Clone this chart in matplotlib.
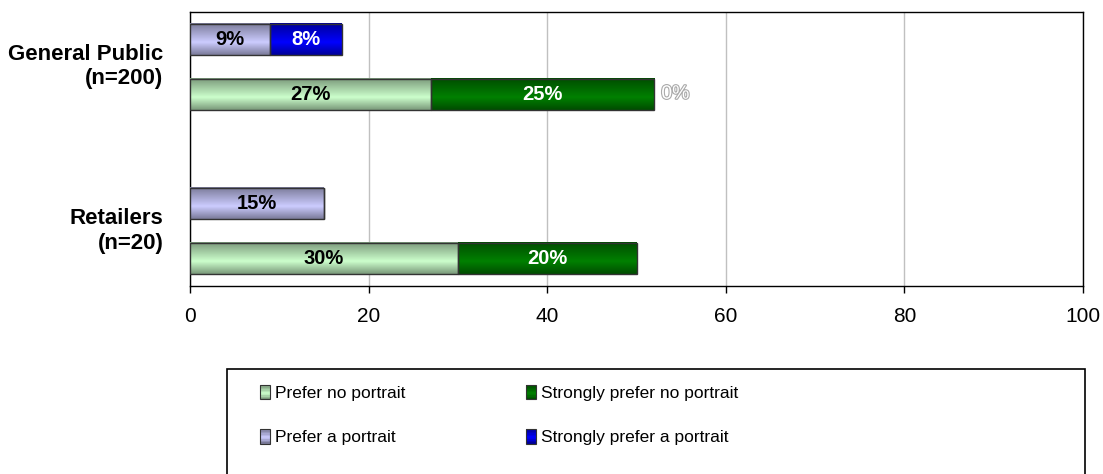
import numpy as np
import matplotlib
matplotlib.use("Agg")
import matplotlib.pyplot as plt
from matplotlib.patches import Rectangle
from matplotlib.legend_handler import HandlerBase
import matplotlib.colors as mcolors
import matplotlib.patheffects as pe

plt.rcParams['font.family'] = ['Liberation Sans', 'DejaVu Sans']

# ---------------- data ----------------
groups = ["General Public\n(n=200)", "Retailers\n(n=20)"]
prefer_no = [27, 30]
strongly_no = [25, 20]
prefer_yes = [9, 15]
strongly_yes = [8, 0]
extra_no_row_label = ["0%", ""]   # outlined label shown after the "no portrait" bar

series_names = ["Prefer no portrait", "Strongly prefer no portrait",
                "Prefer a portrait", "Strongly prefer a portrait"]
series_colors = ["#ccffcc", "#008000", "#ccccff", "#0000ff"]
label_colors = ["black", "white", "black", "white"]
xticks = [0, 20, 40, 60, 80, 100]

# ---------------- helpers ----------------
def profile(n=64):
    t = np.linspace(0, 1, n)
    d = np.where(t < 0.6, (0.6 - t) / 0.6, (t - 0.6) / 0.4)
    return 1 - 0.4 * d

def grad_img(color, n=64):
    rgb = np.array(mcolors.to_rgb(color))
    f = profile(n)[:, None]
    return (f * rgb)[:, None, :]

class HandlerGradient(HandlerBase):
    def create_artists(self, legend, orig_handle, xdescent, ydescent,
                       width, height, fontsize, trans):
        color = orig_handle.get_facecolor()
        n = 10
        f = profile(n)
        arts = []
        for i in range(n):
            c = np.clip(np.array(color[:3]) * f[i], 0, 1)
            r = Rectangle((-xdescent, -ydescent + height * (1 - (i + 1) / n)),
                          width, height / n, facecolor=c, edgecolor='none',
                          transform=trans)
            arts.append(r)
        edge = Rectangle((-xdescent, -ydescent), width, height,
                         facecolor='none', edgecolor='#333333', lw=0.8,
                         transform=trans)
        arts.append(edge)
        return arts

# ---------------- figure ----------------
fig = plt.figure(figsize=(11.03, 4.74), dpi=100)
ax = fig.add_axes([190 / 1103, 1 - 286 / 474, 893 / 1103, 274 / 474])

base = np.array([3.0, 0.0])
no_pos = base
yes_pos = base + 1
h = 0.57

rows = [
    (no_pos, prefer_no, np.zeros(2)),
    (no_pos, strongly_no, np.array(prefer_no, float)),
    (yes_pos, prefer_yes, np.zeros(2)),
    (yes_pos, strongly_yes, np.array(prefer_yes, float)),
]

handles = []
for k, (pos, vals, left) in enumerate(rows):
    bars = ax.barh(pos, vals, left=left, height=h, facecolor='none',
                   edgecolor='#333333', linewidth=1.0, zorder=4,
                   label=series_names[k])
    for b, v in zip(bars, vals):
        if v <= 0:
            continue
        x0, y0 = b.get_x(), b.get_y()
        w, hh = b.get_width(), b.get_height()
        ax.imshow(grad_img(series_colors[k]), extent=(x0, x0 + w, y0, y0 + hh),
                  origin='upper', aspect='auto', interpolation='bilinear',
                  zorder=3)
    labels = [f"{v}%" if v > 0 else "" for v in vals]
    ax.bar_label(bars, labels=labels, label_type='center', fontsize=14.5,
                 fontweight='bold', color=label_colors[k], zorder=5)
    handles.append(Rectangle((0, 0), 1, 1, facecolor=series_colors[k]))

# outlined extra label at end of "no portrait" row
for i, lab in enumerate(extra_no_row_label):
    if lab:
        xend = prefer_no[i] + strongly_no[i]
        ax.annotate(lab, (xend, no_pos[i]), xytext=(5, 0),
                    textcoords='offset points', ha='left', va='center',
                    fontsize=14, color='white', zorder=6,
                    path_effects=[pe.withStroke(linewidth=1.6,
                                                foreground='#aaaaaa')])

ax.set_xlim(0, 100)
ax.set_ylim(-0.5, 4.5)
ax.set_xticks(xticks)
ax.set_xticklabels([str(x) for x in xticks], fontsize=15)
ax.tick_params(axis='x', length=5, width=1, pad=10, color='black')
ax.set_yticks(base + 0.58)
ax.set_yticklabels(groups, fontsize=16, fontweight='bold')
ax.tick_params(axis='y', length=0, pad=19)
ax.grid(axis='x', color='#c0c0c0', linewidth=1, zorder=0)
ax.set_axisbelow(True)
for s in ax.spines.values():
    s.set_color('black')
    s.set_linewidth(1)

# legend frame (extends below the figure edge)
fig.patches.append(Rectangle((227 / 1103, -0.05), (1085 - 227) / 1103,
                             0.05 + 1 - 369 / 474, transform=fig.transFigure,
                             facecolor='none', edgecolor='black', lw=1.2))

leg_font = dict(family=['Liberation Sans'], size=12.5)
common = dict(loc='center left', frameon=False, ncol=1, prop=leg_font,
              handlelength=0.57, handleheight=0.92, handletextpad=0.3,
              labelspacing=1.6, borderpad=0, borderaxespad=0,
              handler_map={Rectangle: HandlerGradient()})
yc = 1 - 415 / 474
fig.legend([handles[0], handles[2]], [series_names[0], series_names[2]],
           bbox_to_anchor=(260 / 1103, yc), **common)
fig.legend([handles[1], handles[3]], [series_names[1], series_names[3]],
           bbox_to_anchor=(526 / 1103, yc), **common)

fig.savefig("out.png", dpi=100)
